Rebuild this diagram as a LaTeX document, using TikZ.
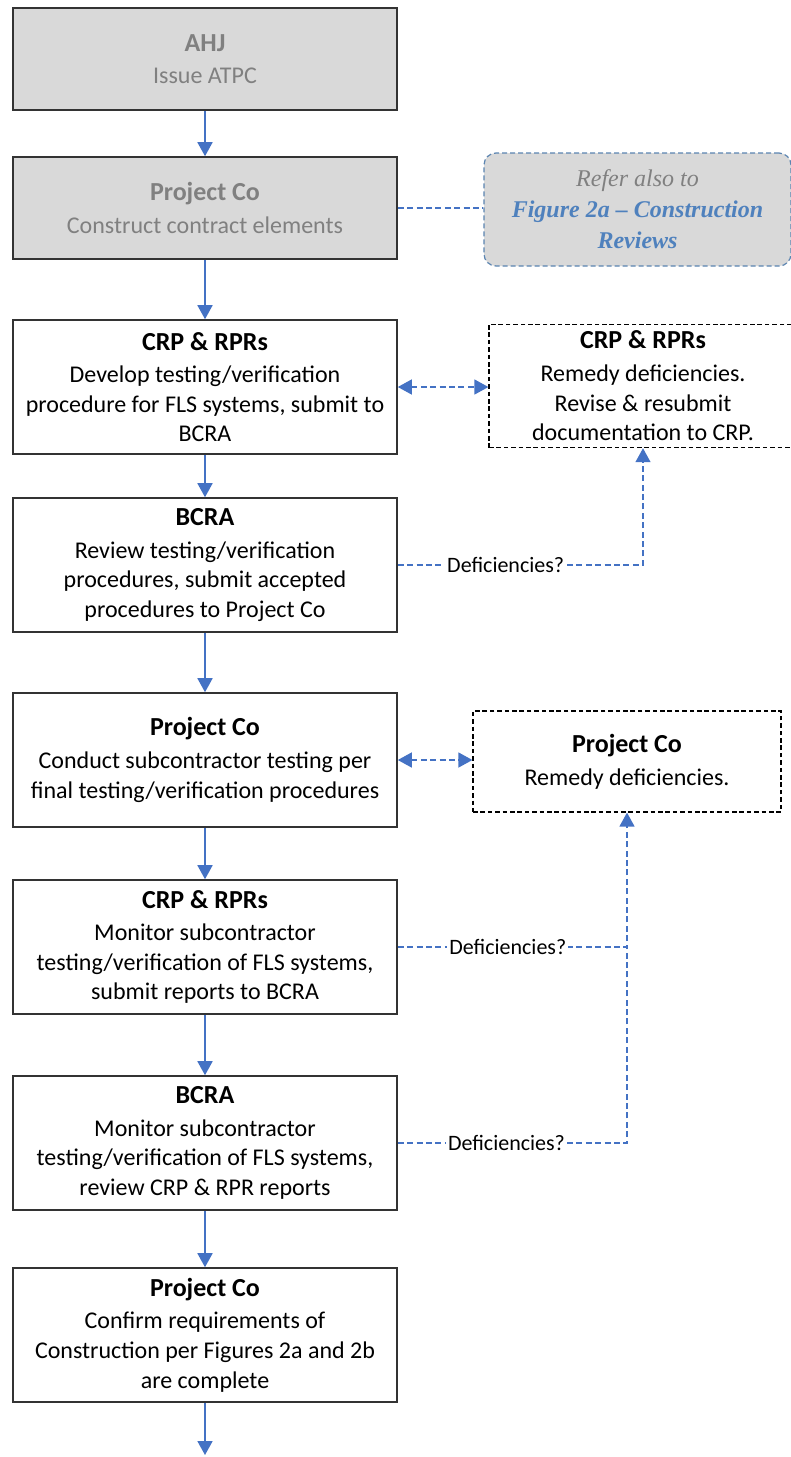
\documentclass[tikz,border=0pt]{standalone}
\usepackage{fontspec}
\setmainfont{Carlito}
\newfontfamily\timesfont{Liberation Serif}
\usetikzlibrary{arrows.meta}
\definecolor{flowblue}{HTML}{4472C4}
\definecolor{boxgray}{HTML}{D9D9D9}
\definecolor{textgray}{HTML}{808080}
\definecolor{figblue}{HTML}{4F81BD}
\definecolor{noteedge}{HTML}{5B84B1}
\newcommand{\steptitle}[1]{{\bfseries\fontsize{13}{15.5}\selectfont #1}\\[1.5pt]}
\tikzset{
  >={Triangle[length=7pt,width=7.5pt]},
  % one step of the procedure
  stage/.style={draw=black!80, line width=0.8pt, minimum width=192pt,
    minimum height=67pt, align=center, inner sep=2pt,
    font=\fontsize{12}{14.8}\selectfont},
  % steps finished before testing starts
  done/.style={stage, minimum height=51pt, fill=boxgray, text=textgray},
  % boxes where deficiencies get fixed
  remedy/.style={draw=black, line width=0.6pt, dash pattern=on 2.3pt off 1.4pt,
    minimum width=154pt, align=center, font=\fontsize{12}{14.8}\selectfont},
  % pointer to the other figure
  note/.style={draw=noteedge, fill=boxgray, line width=0.6pt, rounded corners=6pt,
    dash pattern=on 2.5pt off 1.5pt, minimum width=153.5pt, minimum height=56.5pt,
    align=center, font=\timesfont\itshape\fontsize{12}{15.5}\selectfont},
  flowarrow/.style={->, draw=flowblue, line width=0.9pt},
  backlink/.style={draw=flowblue, line width=0.7pt, dash pattern=on 3pt off 1.7pt},
  deflabel/.style={fill=white, inner sep=1pt, font=\fontsize{11}{13}\selectfont},
}
\begin{document}
\begin{tikzpicture}[x=0.5pt,y=-0.5pt]
\useasboundingbox (0,0) rectangle (791,1457);

% main column
\node[done] (ahj) at (205,59) {\steptitle{AHJ}Issue ATPC};
\node[done] (build) at (205,208) {\steptitle{Project Co}Construct contract elements};
\node[stage] (dev) at (205,387) {\steptitle{CRP \& RPRs}Develop testing/verification\\
  procedure for FLS systems, submit to\\BCRA};
\node[stage] (review) at (205,565) {\steptitle{BCRA}Review testing/verification\\
  procedures, submit accepted\\procedures to Project Co};
\node[stage] (test) at (205,760) {\steptitle{Project Co}Conduct subcontractor testing per\\
  final testing/verification procedures};
\node[stage] (monitor) at (205,947) {\steptitle{CRP \& RPRs}Monitor subcontractor\\
  testing/verification of FLS systems,\\submit reports to BCRA};
\node[stage] (bcramon) at (205,1143) {\steptitle{BCRA}Monitor subcontractor\\
  testing/verification of FLS systems,\\review CRP \& RPR reports};
\node[stage] (confirm) at (205,1335) {\steptitle{Project Co}Confirm requirements of\\
  Construction per Figures 2a and 2b\\are complete};
\coordinate (finish) at (205,1455);

% side boxes
\node[note] (refer) at (637.5,209.5) {{\color{textgray}Refer also to}\\
  {\bfseries\color{figblue}Figure 2a – Construction}\\{\bfseries\color{figblue}Reviews}};
\node[remedy, minimum height=61pt] (fixdev) at (643,386) {\steptitle{CRP \& RPRs}Remedy deficiencies.\\
  Revise \& resubmit\\documentation to CRP.};
\node[remedy, minimum height=50.5pt] (fixtest) at (627,761.5) {\steptitle{Project Co}Remedy deficiencies.};

\draw[flowarrow] (ahj) -- (build);
\draw[flowarrow] (build) -- (dev);
\draw[flowarrow] (dev) -- (review);
\draw[flowarrow] (review) -- (test);
\draw[flowarrow] (test) -- (monitor);
\draw[flowarrow] (monitor) -- (bcramon);
\draw[flowarrow] (bcramon) -- (confirm);
\draw[flowarrow] (confirm) -- (finish);

% loops back for deficiencies
\draw[backlink] (build.east) -- (build.east -| refer.west);
\draw[backlink,<->] (dev.east) -- (dev.east -| fixdev.west);
\draw[backlink,->] (review.east) -| node[deflabel,pos=0.22] {Deficiencies?} (fixdev.south);
\draw[backlink,<->] (test.east) -- (test.east -| fixtest.west);
\draw[backlink,->] (monitor.east) -| node[deflabel,pos=0.24] {Deficiencies?} (fixtest.south);
\draw[backlink] (bcramon.east) -| node[deflabel,pos=0.237] {Deficiencies?} (fixtest.south |- monitor.east);
\end{tikzpicture}
\end{document}
